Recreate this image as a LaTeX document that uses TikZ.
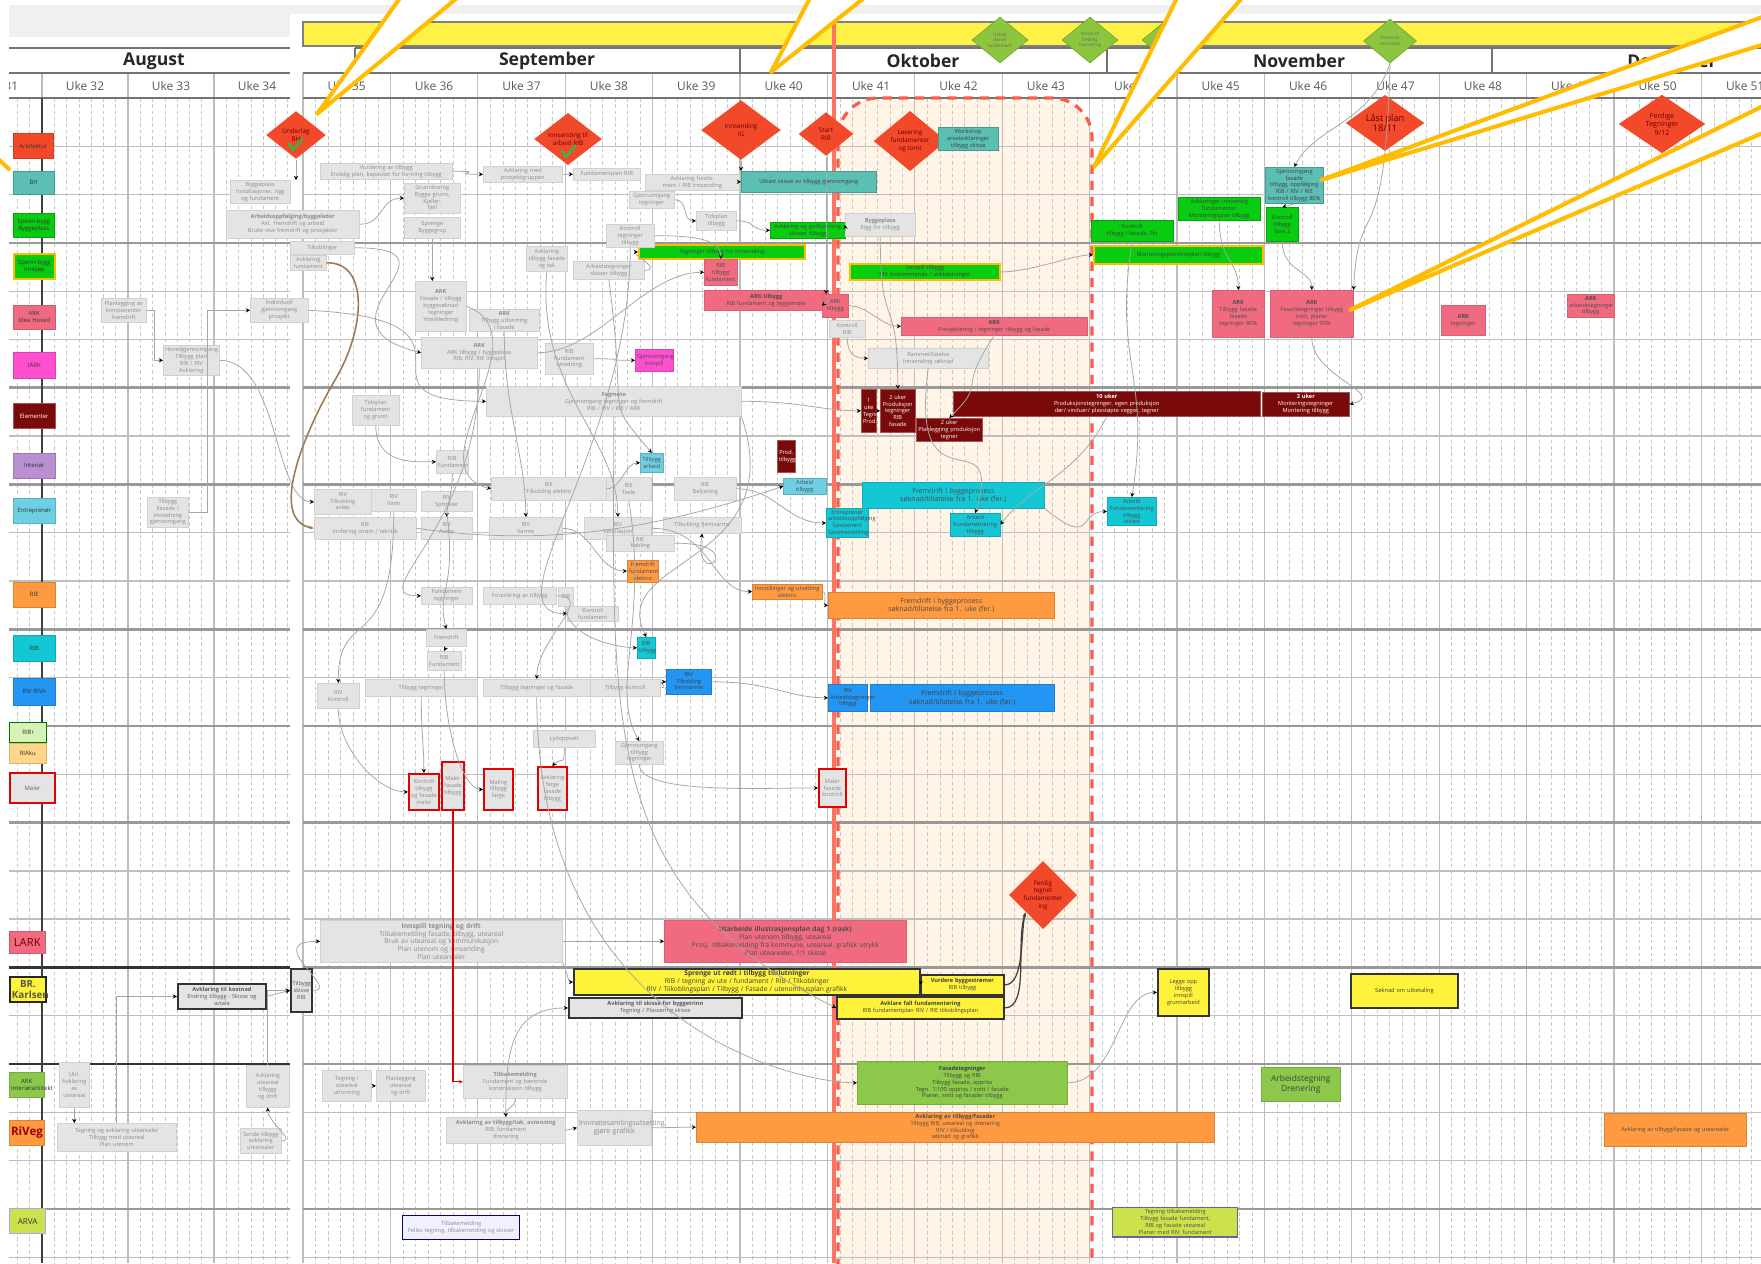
\documentclass[tikz,border=0pt]{standalone}
\usepackage{fontspec}
\setmainfont{Open Sans}
\usepackage{tikz}
\usetikzlibrary{shapes.geometric,arrows.meta}
\definecolor{msred}{HTML}{F2492A}
\definecolor{msgreen}{HTML}{8CC63F}
\definecolor{band}{HTML}{FFF146}
\definecolor{bhteal}{HTML}{5BBFB4}
\definecolor{bgreen}{HTML}{08CC10}
\definecolor{arkpink}{HTML}{F06B80}
\definecolor{magent}{HTML}{FF4FD0}
\definecolor{elred}{HTML}{7A0A0A}
\definecolor{lilac}{HTML}{B88FD0}
\definecolor{skyblue}{HTML}{6ECFE2}
\definecolor{orng}{HTML}{FF9A40}
\definecolor{cyn}{HTML}{14C7D4}
\definecolor{blu}{HTML}{2395F2}
\definecolor{pale}{HTML}{D6F2B4}
\definecolor{peach}{HTML}{FFD68A}
\definecolor{yel}{HTML}{FFF23A}
\definecolor{lgreen}{HTML}{8CC94A}
\definecolor{arvagreen}{HTML}{CDE24A}
\definecolor{callout}{HTML}{FFBC00}
\definecolor{redline}{HTML}{FF5A48}
\definecolor{boxgray}{HTML}{E4E4E4}
\definecolor{gridgray}{HTML}{BDBDBD}
\definecolor{sand}{HTML}{FFF4E5}
\definecolor{checkg}{HTML}{2DB84B}

\newcommand{\tn}{\fontsize{1.6}{1.95}\selectfont}
\newcommand{\task}[6][taskbox]{%
  \pgfmathsetlengthmacro\taskw{#4*0.01cm}%
  \pgfmathsetlengthmacro\tasktw{#4*0.01cm-1pt}%
  \pgfmathsetlengthmacro\taskh{#5*0.01cm}%
  \node[#1,anchor=north west,minimum width=\taskw,minimum height=\taskh,text width=\tasktw] (#2) at (#3) {#6};}

\tikzset{
  taskbox/.style={fill=boxgray,draw=black!18,line width=0.15pt,font=\tn,text=black!45,align=center,inner sep=0.5pt},
  pinkbox/.style={taskbox,fill=arkpink,draw=arkpink!90!black,text=black!70},
  greenbox/.style={taskbox,fill=bgreen,draw=bgreen!80!black,text=black!75},
  greenybox/.style={greenbox,draw=callout,line width=0.5pt},
  tealbox/.style={taskbox,fill=bhteal,draw=bhteal!80!black,text=black!75},
  elbox/.style={taskbox,fill=elred,draw=elred!70!white,text=white},
  cyanbox/.style={taskbox,fill=cyn,draw=cyn!85!black,text=black!70},
  skybox/.style={taskbox,fill=skyblue,draw=skyblue!85!black,text=black!70},
  orangebox/.style={taskbox,fill=orng,draw=orng!85!black,text=black!70},
  bluebox/.style={taskbox,fill=blu,draw=blu!85!black,text=black!75},
  yellowbox/.style={taskbox,fill=yel,draw=black!80,line width=0.5pt,text=black!75},
  darkgray/.style={taskbox,draw=black!80,line width=0.5pt,text=black!65},
  leafbox/.style={taskbox,fill=lgreen,draw=lgreen!85!black,text=black!75},
  malerbox/.style={taskbox,draw=red!90!black,line width=0.5pt},
  magbox/.style={taskbox,fill=magent,draw=magent!85!black,text=black!70},
  lanelbl/.style={taskbox,text=black!80,font=\fontsize{1.7}{2}\selectfont},
  msdia/.style={shape=diamond,fill=msred,draw=none,inner sep=0pt,font=\fontsize{1.8}{2.2}\selectfont,text=black!60!red,align=center},
  gdia/.style={shape=diamond,fill=msgreen,draw=msgreen!85!black,line width=0.2pt,inner sep=0pt,font=\fontsize{1.3}{1.6}\selectfont,text=black!60,align=center},
  weekline/.style={draw=gridgray,line width=0.35pt},
  dayline/.style={draw=black!22,line width=0.15pt,dash pattern=on 1pt off 0.8pt},
  laneline/.style={draw=black!25,line width=0.4pt},
  thickline/.style={draw=black!40,line width=0.75pt},
  hdrline/.style={draw=black!55,line width=0.5pt},
  weeklbl/.style={font=\fontsize{3.4}{4}\selectfont,text=black!65},
  monthlbl/.style={font=\fontsize{5}{6}\selectfont\bfseries,text=black!85},
  cn/.style={draw=black!35,line width=0.22pt,-{Stealth[length=1.2pt,width=1.2pt,black]}},
  speech/.style={fill=white,draw=callout,line width=1.15pt,line join=round},
}

\begin{document}
\begin{tikzpicture}[x=0.01cm,y=-0.01cm]
  \useasboundingbox (0,0) rectangle (1761,1263);
  \clip (0,0) rectangle (1761,1263);
  \fill[white] (0,0) rectangle (1761,1263);

  % top band
  \fill[black!6] (9,5) rectangle (1761,14);
  \fill[black!6] (9,5) rectangle (290,37);

  % uke 41-44 omraade
  \fill[sand,rounded corners=0.4cm] (838,1300) -- (838,98) -- (1092,98) -- (1092,1300);

  % rutenett hoved
  \foreach \k in {0,...,16} {
    \pgfmathsetmacro\xa{303+87.4*\k}
    \foreach \j in {1,...,6}
      \draw[dayline] ({\xa+12.486*\j},98) -- ({\xa+12.486*\j},1263);
    \draw[weekline] (\xa,73) -- (\xa,1263);
    \pgfmathtruncatemacro\wk{35+\k}
    \node[weeklbl] at ({\xa+43.7},86) {Uke \wk};
  }

  % rutenett august
  \begin{scope}
    \clip (9,0) rectangle (290,1263);
    \foreach \k in {0,...,3} {
      \pgfmathsetmacro\xa{-44+86*\k}
      \foreach \j in {1,...,6}
        \draw[dayline] ({\xa+12.29*\j},98) -- ({\xa+12.29*\j},1263);
      \draw[weekline] (\xa,73) -- (\xa,1263);
      \pgfmathtruncatemacro\wk{31+\k}
      \node[weeklbl] at ({\xa+43},86) {Uke \wk};
    }
  \end{scope}

  % svoemmebaner
  \foreach \i in {0,...,24} {
    \pgfmathsetmacro\ly{98+48.3*\i}
    \draw[laneline] (303,\ly) -- (1761,\ly);
    \draw[laneline] (9,\ly) -- (290,\ly);
  }
  \foreach \i in {3,6,8,11,13,15,23} {
    \pgfmathsetmacro\ly{98+48.3*\i}
    \draw[thickline] (303,\ly) -- (1761,\ly);
    \draw[thickline] (9,\ly) -- (290,\ly);
  }
  \foreach \i in {18,20} {
    \pgfmathsetmacro\ly{98+48.3*\i}
    \draw[thickline] (303,\ly) -- (1761,\ly);
    \draw[black!80,line width=0.8pt] (9,\ly) -- (290,\ly);
  }

  % topptekst
  \draw[hdrline] (9,48) -- (290,48);
  \draw[hdrline] (9,73) -- (290,73);
  \draw[hdrline] (9,98) -- (290,98);
  \node[monthlbl] at (154,61) {August};
  \filldraw[fill=band,draw=black!50,line width=0.3pt] (303,22) rectangle (1775,46);
  \draw[hdrline] (355,48) -- (1761,48);
  \draw[hdrline] (303,73) -- (1761,73);
  \draw[hdrline] (303,98) -- (1761,98);
  \foreach \xm in {355,740,1107,1492}
    \draw[hdrline] (\xm,48) -- (\xm,73);
  \node[monthlbl] at (547,61) {September};
  \node[monthlbl] at (923,61) {Oktober};
  \node[monthlbl] at (1299,61) {November};
  \node[monthlbl] at (1672,61) {Desember};

  % rod linje og stiplet ramme
  \draw[redline!85,line width=1pt] (834,22) -- (834,1263);
  \draw[redline,line width=0.9pt,dash pattern=on 2.6pt off 2pt,rounded corners=0.4cm]
    (838,1300) -- (838,98) -- (1092,98) -- (1092,1300);

  % tidslinje venstre
  \draw[black!75,line width=0.6pt] (42,98) -- (42,1263);

  % baneetiketter
  \task[lanelbl,fill=msred,draw=msred!85!black]{lb1}{13,133}{40}{25}{Arkitektur}
  \task[lanelbl,fill=bhteal,draw=bhteal!80!black]{lb2}{13,171}{41}{23}{BH}
  \task[lanelbl,fill=bgreen,draw=bgreen!80!black]{lb3}{13,213}{41}{24}{Spenn-bygg\\Byggeplass}
  \task[lanelbl,fill=bgreen,draw=callout,line width=0.5pt]{lb4}{13,253}{41}{25}{Spenn-bygg\\Innkjøp}
  \task[lanelbl,fill=arkpink,draw=arkpink!85!black]{lb5}{13,305}{42}{24}{ARK\\Idea Hoved}
  \task[lanelbl,fill=magent,draw=magent!85!black]{lb6}{13,352}{42}{26}{IARK}
  \task[lanelbl,fill=elred,draw=elred!70!white,text=white]{lb7}{13,403}{42}{25}{Elementer}
  \task[lanelbl,fill=lilac,draw=lilac!85!black]{lb8}{13,453}{42}{25}{Interiør}
  \task[lanelbl,fill=skyblue,draw=skyblue!85!black]{lb9}{13,498}{42}{25}{Entreprenør}
  \task[lanelbl,fill=orng,draw=orng!85!black]{lb10}{13,582}{42}{25}{RIE}
  \task[lanelbl,fill=cyn,draw=cyn!85!black]{lb11}{13,635}{42}{26}{RIB}
  \task[lanelbl,fill=blu,draw=blu!85!black]{lb12}{13,678}{42}{27}{RIV RIVA}
  \task[lanelbl,fill=pale,draw=green!45!black,line width=0.4pt]{lb13}{9,722}{37}{20}{RIBr}
  \task[lanelbl,fill=peach,draw=peach!85!black]{lb14}{9,743}{37}{20}{RIAku}
  \task[lanelbl,draw=red!90!black,line width=0.6pt,text=black!60]{lb15}{9,772}{45}{30}{Maler}
  \task[lanelbl,fill=arkpink,draw=arkpink!85!black,text=red!45!black,font=\fontsize{3.2}{3.6}\selectfont]{lb16}{9,931}{36}{22}{LARK}
  \task[lanelbl,fill=yel,draw=black!85,line width=0.6pt,text=black!55!yellow!60!black,font=\fontsize{2.8}{3}\selectfont\bfseries]{lb17}{9,976}{36}{25}{BR.\\Karlsen}
  \task[lanelbl,fill=lgreen,draw=lgreen!85!black]{lb18}{9,1072}{35}{25}{ARK\\Interiørarkitekt}
  \task[lanelbl,fill=orng,draw=orng!85!black,text=red!60!black,font=\fontsize{3.3}{3.6}\selectfont\bfseries]{lb19}{9,1120}{35}{25}{RiVeg}
  \task[lanelbl,fill=arvagreen,draw=blue!35,line width=0.4pt,font=\fontsize{2.3}{2.6}\selectfont]{lb20}{9,1208}{36}{25}{ARVA}

  % milepaeler
  \node[msdia,minimum width=0.6cm,minimum height=0.48cm] (ms1) at (296,135) {Underlag\\BH};
  \node[msdia,minimum width=0.68cm,minimum height=0.5cm] (ms2) at (568,139) {Innsending til\\arbeid RIB};
  \node[msdia,minimum width=0.8cm,minimum height=0.6cm] (ms3) at (741,130) {Innsending\\IG};
  \node[msdia,minimum width=0.55cm,minimum height=0.44cm] (ms4) at (826,134) {Start\\RIB};
  \node[msdia,minimum width=0.73cm,minimum height=0.5cm] (ms5) at (910,141) {Levering\\fundamenter\\og tomt};
  \node[msdia,minimum width=0.79cm,minimum height=0.55cm,font=\fontsize{2.6}{3}\selectfont] (ms6) at (1385,123) {Låst plan\\18/11};
  \node[msdia,minimum width=0.87cm,minimum height=0.59cm,font=\fontsize{2}{2.4}\selectfont] (ms7) at (1662,124) {Ferdige\\Tegninger\\9/12};
  \node[msdia,minimum width=0.68cm,minimum height=0.63cm] (ms8) at (1043,895) {Ferdig\\tegnet\\fundamenter\\ing};
  \draw[checkg,line width=0.7pt,line cap=round,line join=round]
    ([shift={(-7,9)}]ms1.center) -- ++(4,6) -- ++(9,-11);
  \draw[checkg,line width=0.7pt,line cap=round,line join=round]
    ([shift={(-6,12)}]ms2.center) -- ++(4,6) -- ++(9,-11);
  \node[gdia,minimum width=0.56cm,minimum height=0.46cm] (gd1) at (1000,40) {Utkast\\skisser\\fundament};
  \node[gdia,minimum width=0.56cm,minimum height=0.46cm] (gd2) at (1090,40) {Innsendt\\Endelig\\montering};
  \node[gdia,minimum width=0.56cm,minimum height=0.46cm] (gd3) at (1170,40) {Innsendt\\tegning};
  \node[gdia,minimum width=0.53cm,minimum height=0.44cm] (gd4) at (1390,41) {Innsendt\\montasje};

  % BH
  \task[tealbox]{t1}{741,171}{135}{21}{Utkast skisse av tilbygg gjennomgang}
  \task[tealbox]{t2}{938,127}{60}{23}{Workshop\\arealavklaringer\\tilbygg skisse}
  \task[tealbox]{t3}{1265,167}{58}{35}{Gjennomgang fasade\\tilbygg, oppfølging\\RIB / RIV / RIE\\kontroll tilbygg 80\%}

  % Spenn-bygg
  \task[greenbox]{g1}{770,222}{75}{16}{Avklaring og godkjenning\\skisser tilbygg}
  \task[greenybox]{g2}{638,244}{166}{14}{Tegninger tilbygg for innsending}
  \task[greenybox]{g3}{849,263}{150}{14}{Innspill tilbygg\\RIV innkommende / stikkledninger}
  \task[greenbox]{g4}{1091,220}{82}{21}{Kontroll\\tilbygg i fasade, Fkr}
  \task[greenybox]{g5}{1093,245}{169}{18}{Monteringsplan/tidsplan tilbygg}
  \task[greenbox]{g6}{1178,197}{82}{23}{Avklaringer innvendig\\fundamenter\\Monteringsplan tilbygg}
  \task[greenbox]{g7}{1266,207}{32}{34}{Kontroll\\tilbygg\\fase 2}

  % ARK
  \task[pinkbox]{p1}{704,259}{33}{26}{RIB\\tilbygg\\fundament}
  \task[pinkbox]{p2}{704,290}{124}{20}{\textbf{ARK tilbygg}\\RIB fundament og byggemøte}
  \task[pinkbox]{p3}{822,294}{26}{23}{ARK\\tilbygg}
  \task[pinkbox]{p4}{901,317}{186}{18}{\textbf{ARK}\\Prosjektering / tegninger tilbygg og fasade}
  \task[pinkbox]{p5}{1212,290}{52}{47}{\textbf{ARK}\\Tilbygg fasade\\fasade\\tegninger 80\%}
  \task[pinkbox]{p6}{1270,290}{83}{47}{\textbf{ARK}\\Fasadetegninger tilbygg\\snitt, planer\\tegninger 90\%}
  \task[pinkbox]{p7}{1441,305}{44}{30}{\textbf{ARK}\\tegninger}
  \task[pinkbox]{p8}{1567,294}{47}{23}{\textbf{ARK}\\arbeidstegninger\\tilbygg}
  \task[magbox]{m1}{635,349}{38}{22}{Gjennomgang\\innspill}

  % Elementer
  \task[elbox]{d1}{861,389}{15}{43}{1 uke\\Tegning\\Prod.}
  \task[elbox]{d2}{880,389}{35}{43}{2 uker\\Produksjon\\tegninger\\RIB\\fasade}
  \task[elbox]{d3}{916,418}{66}{21}{2 uker\\Planlegging produksjon\\tegner}
  \task[elbox]{d4}{953,391}{307}{25}{\textbf{10 uker}\\Produksjonstegninger, egen produksjon\\dør/ vinduer/ plasstøpte vegger, tegner}
  \task[elbox]{d5}{1262,392}{87}{24}{\textbf{3 uker}\\Monteringstegninger\\Montering tilbygg}
  \task[elbox]{d6}{777,440}{18}{32}{Prod.\\tilbygg}

  % Entreprenoer
  \task[cyanbox,font=\fontsize{2}{2.4}\selectfont]{c1}{862,482}{182}{26}{Fremdrift i byggeprosess\\søknad/tillatelse fra 1. uke (fer.)}
  \task[cyanbox]{c2}{826,508}{42}{25}{Entreprenør\\arbeidsoppfølging\\fundament\\Sammenstilling}
  \task[cyanbox]{c3}{950,513}{50}{20}{Arbeid\\Fundamentering\\tilbygg}
  \task[cyanbox]{c4}{1107,497}{49}{26}{Arbeid\\Fundamentering tilbygg\\utkast}
  \task[skybox]{c5}{640,453}{23}{19}{Tilbygg\\arbeid}
  \task[skybox]{c6}{783,478}{43}{16}{Arbeid\\tilbygg}
  \task[cyanbox]{c7}{637,637}{18}{21}{RIB\\tilbygg}

  % RIE
  \task[orangebox,font=\fontsize{2}{2.4}\selectfont]{o1}{828,592}{226}{26}{Fremdrift i byggeprosess\\søknad/tillatelse fra 1. uke (fer.)}
  \task[orangebox]{o2}{752,584}{70}{14}{Innstillinger og utsetting\\elektro}
  \task[orangebox]{o3}{627,560}{31}{20}{Fremdrift\\fundament\\elektro}

  % RIB / RIV
  \task[bluebox,font=\fontsize{2}{2.4}\selectfont]{b1}{870,684}{184}{27}{Fremdrift i byggeprosess\\søknad/tillatelse fra 1. uke (fer.)}
  \task[bluebox]{b2}{828,684}{39}{27}{RIV\\Arbeidstegninger\\tilbygg}
  \task[bluebox]{b3}{666,669}{45}{25}{RIV\\Tilkobling\\fjernvarme}

  % Maler
  \task[malerbox]{r1}{408,773}{30}{36}{Kontroll\\tilbygg\\og fasade\\maler}
  \task[malerbox]{r2}{441,761}{22}{48}{Maler\\fasade\\tilbygg}
  \task[malerbox]{r3}{483,768}{29}{41}{Maling\\tilbygg\\farge}
  \task[malerbox]{r4}{537,766}{29}{43}{Avklaring\\farge\\fasade\\tilbygg}
  \task[malerbox]{r5}{818,768}{27}{38}{Maler\\fasade\\kontroll}

  % LARK, Karlsen, RiVeg, ARVA
  \task[pinkbox,font=\fontsize{1.9}{2.3}\selectfont]{p9}{664,920}{242}{42}{\textbf{Utarbeide illustrasjonsplan dag 1 (rask)}\\Plan utenom tilbygg, uteareal\\Prosj. tilbakemelding fra kommune, uteareal, grafisk utrykk\\Plan utearealer, 1:1 skisse}
  \task[yellowbox,font=\fontsize{1.9}{2.3}\selectfont]{y1}{573,968}{346}{26}{\textbf{Sprenge ut rødt i tilbygg tilslutninger}\\RIB / tegning av ute / fundament / RIB / Tilkoblinger\\RIV / Tilkoblingsplan / Tilbygg / Fasade / utenomhusplan grafikk}
  \task[yellowbox]{y2}{920,974}{83}{20}{\textbf{Vurdere byggestrømer}\\RIB tilbygg}
  \task[yellowbox]{y3}{836,996}{167}{22}{\textbf{Avklare fall fundamentering}\\RIB fundamentplan RIV / RIE tilkoblingsplan}
  \task[yellowbox]{y4}{1157,968}{51}{47}{Legge opp\\tilbygg\\innspill\\grunnarbeid}
  \task[yellowbox]{y5}{1350,973}{107}{34}{Søknad om utbetaling}
  \task[darkgray]{k1}{568,997}{173}{20}{\textbf{Avklaring til skisse for byggetrinn}\\Tegning / Plassering skisse}
  \task[darkgray]{k2}{177,983}{88}{25}{\textbf{Avklaring til kostnad}\\Endring tilbygg - Skisse og\\avtale}
  \task[darkgray]{k3}{290,968}{21}{43}{Tilbygg\\skisse\\RIB}
  \task[leafbox]{l1}{857,1061}{210}{43}{\textbf{Fasadetegninger}\\Tilbygg og RIB\\Tilbygg fasade, oppriss\\Tegn. 1:100 oppriss / snitt / fasade\\Planer, snitt og fasader tilbygg}
  \task[leafbox,font=\fontsize{2.4}{2.8}\selectfont]{l2}{1261,1067}{79}{34}{Arbeidstegning\\Drenering}
  \task[orangebox]{o4}{696,1112}{518}{27}{\textbf{Avklaring av tilbygg/fasader}\\Tilbygg RIB, uteareal og drenering\\RIV / tilkobling\\søknad og grafikk}
  \task[orangebox]{o5}{1604,1113}{142}{33}{Avklaring av tilbygg/fasade og utearealer}
  \task[taskbox,fill=blue!6,draw=blue!55!black,line width=0.4pt]{v1}{402,1215}{117}{24}{Tilbakemelding\\Felles tegning, tilbakemelding og skisser}
  \task[taskbox,fill=arvagreen,draw=blue!35!black!60,line width=0.4pt,text=black!70]{v2}{1112,1207}{125}{26}{Tegning tilbakemelding\\Tilbygg fasade fundament, RIB og fasade uteareal\\Planer med RIV, fundament}

  % graa oppgaver
  \task{a1}{230,180}{60}{22}{Byggeplass\\Installasjoner, rigg\\og fundament}
  \task{a2}{226,210}{133}{28}{\textbf{Arbeidsoppfølging/byggeleder}\\Avt. fremdrift og arbeid\\Bruke vise fremdrift og prosjekter}
  \task{a3}{320,163}{132}{16}{Vurdering av tilbygg\\Endelig plan, kapasitet for forming tilbygg}
  \task{a4}{404,183}{56}{23}{Grunnboring\\Bygge grunn, Kjeller,\\fjell}
  \task{a5}{404,217}{56}{21}{Sprenge\\Byggegrop}
  \task{a6}{290,241}{64}{13}{Tilkoblinger}
  \task{a7}{290,255}{36}{15}{Avklaring\\fundament}
  \task{a8}{250,298}{58}{24}{Individuell gjennomgang\\prosjekt}
  \task{a9}{101,298}{45}{24}{Planlegging av\\komponenter\\fremdrift}
  \task{a10}{163,345}{56}{30}{Hovedgjennomgang\\Tilbygg plan\\RIB / RIV\\Avklaring}
  \task{a11}{147,497}{41}{26}{Tilbygg\\Fasade / innredning\\gjennomgang}
  \task{a12}{415,281}{51}{50}{\textbf{ARK}\\Fasade / tilbygg\\byggesøknad\\tegninger\\Ytterkledning}
  \task{a13}{469,309}{70}{22}{\textbf{ARK}\\Tilbygg utforming\\i fasade}
  \task{a14}{421,337}{116}{31}{\textbf{ARK}\\ARK tilbygg / byggeplass\\RIB, RIV, RIE innspill}
  \task{a15}{526,246}{41}{25}{Avklaring\\tilbygg fasade\\og tak}
  \task{a16}{573,261}{71}{18}{Arbeidstegninger\\skisser tilbygg}
  \task{a17}{545,343}{48}{31}{RIB\\Fundament\\utredning}
  \task{a18}{573,168}{67}{12}{Fundamentplan RIB}
  \task{a19}{483,166}{79}{9}{Avklaring med prosjektgruppen}
  \task{a20}{645,174}{94}{11}{Avklaring fundament / RIB innsending}
  \task{a21}{629,191}{45}{17}{Gjennomgang\\tegninger}
  \task{a22}{606,224}{48}{17}{Kontroll tegninger\\tilbygg}
  \task{a23}{696,211}{40}{19}{Tidsplan\\tilbygg}
  \task{a24}{845,213}{70}{23}{\textbf{Byggeplass}\\Rigg for tilbygg}
  \task{a25}{868,348}{120}{20}{Rammetillatelse\\Innsending søknad}
  \task{a26}{829,320}{36}{17}{Kontroll\\RIB}
  \task{a27}{486,386}{255}{30}{\textbf{Fagmøte}\\Gjennomgang tegninger og fremdrift\\RIB / RIV / RIE / ARK}
  \task{a28}{352,395}{47}{30}{Tidsplan\\fundament\\og grunn}
  \task{a29}{436,450}{32}{23}{RIB\\Fundament}
  \task{a30}{314,489}{57}{25}{RIV\\Tilkobling\\avløp}
  \task{a31}{371,489}{45}{22}{RIV\\Vann}
  \task{a32}{421,491}{51}{20}{RIV\\Sprinkler}
  \task{a33}{491,477}{115}{23}{RIE\\Tilkobling elektro}
  \task{a34}{606,477}{45}{23}{RIE\\Tavle}
  \task{a35}{674,477}{62}{23}{RIE\\Belysning}
  \task{a36}{314,517}{102}{22}{RIE\\Innføring strøm / teknisk}
  \task{a37}{421,517}{51}{22}{RIV\\Avløp}
  \task{a38}{489,517}{73}{22}{RIV\\Varme}
  \task{a39}{584,517}{67}{22}{RIV\\Ventilasjon}
  \task{a40}{663,517}{78}{16}{Tilkobling fjernvarme}
  \task{a41}{606,535}{68}{15}{RIE\\Kabling}
  \task{a42}{421,587}{51}{17}{Fundament\\tegninger}
  \task{a43}{483,587}{73}{17}{Forankring av tilbygg}
  \task{a44}{558,587}{15}{19}{RIB}
  \task{a45}{567,606}{51}{14}{Kontroll\\fundament}
  \task{a46}{426,629}{40}{17}{Fremdrift}
  \task{a47}{427,651}{34}{19}{RIB\\Fundament}
  \task{a48}{317,683}{42}{25}{RIV\\Kontroll}
  \task{a49}{365,679}{112}{17}{Tilbygg tegninger}
  \task{a50}{483,679}{107}{17}{Tilbygg tegninger og fasade}
  \task{a51}{590,679}{70}{17}{Tilbygg kontroll}
  \task{a52}{533,730}{62}{17}{Lydoppsett}
  \task{a53}{615,741}{48}{20}{Gjennomgang\\tilbygg\\tegninger}
  \task[taskbox,font=\fontsize{1.9}{2.2}\selectfont]{a54}{320,920}{242}{42}{\textbf{Innspill tegning og drift}\\Tilbakemelding fasade, tilbygg, uteareal\\Bruk av uteareal og kommunikasjon\\Plan utenom og innsending\\Plan utearealer}
  \task{a55}{322,1070}{49}{31}{Tegning i\\uteareal\\utforming}
  \task{a56}{376,1070}{49}{31}{Planlegging\\uteareal\\og drift}
  \task{a57}{463,1065}{104}{33}{\textbf{Tilbakemelding}\\Fundament og bærende\\konstruksjon tilbygg}
  \task{a58}{446,1117}{119}{26}{\textbf{Avklaring av tilbygg/tak, avrenning}\\RIB, fundament\\drenering}
  \task[taskbox,font=\fontsize{2}{2.4}\selectfont]{a59}{577,1110}{74}{35}{Innmøtesamlingsutsetting\\gjøre grafikk}
  \task{a60}{59,1062}{30}{45}{Util.\\Avklaring\\av\\uteareal}
  \task{a61}{57,1123}{119}{28}{Tegning og avklaring utearealer\\Tilbygg med uteareal\\Plan utenom}
  \task{a62}{240,1128}{41}{25}{Sende tilbygg\\avklaring\\utearealer}
  \task{a63}{246,1065}{43}{42}{Avklaring\\uteareal\\tilbygg\\og drift}

  % forbindelser
  \draw[cn] (ms1.south) -- (ms1.south |- a1.north);
  \draw[cn] (ms3.south) -- (ms3.south |- t1.north);
  \draw[cn] (ms4.south) -- (ms4.south |- p3.north);
  \draw[cn] (a2.east) .. controls +(25,0) and +(-25,0) .. (a4.west);
  \draw[cn] (a3.east) .. controls +(40,0) and +(-40,0) .. (a19.west);
  \draw[cn] (a19.east) .. controls +(5,0) and +(-5,0) .. (a18.west);
  \draw[cn] (a5.south) -- (a5.south |- a12.north);
  \draw[cn] (a9.east) -- ++(8,0) |- (a10.west);
  \draw[cn] (a11.east) -- ++(19,0) |- (a8.west);
  \draw[cn] (a10.east) .. controls +(60,0) and +(-40,0) .. (a30.west);
  \draw[brown!70!black!80,line width=0.45pt,-{Stealth[length=1.4pt]}]
    (a7.east) .. controls (370,262) and (365,330) .. (335,380)
              .. controls (300,440) and (270,520) .. (a36.west);
  \draw[cn] (a14.east) .. controls +(60,0) and +(-60,0) .. (p1.west);
  \draw[cn] (a16.east) .. controls +(20,0) and +(-10,0) .. (g2.west);
  \draw[cn] (a20.east) .. controls +(5,0) and +(-5,0) .. (t1.west);
  \draw[cn] (a21.east) .. controls +(15,0) and +(-15,0) .. (a23.west);
  \draw[cn] (a23.east) .. controls +(20,0) and +(-20,0) .. (g1.west);
  \draw[cn] (g1.east) -- (a24.west);
  \draw[cn] (a22.east) .. controls +(40,0) and +(0,-20) .. (p1.north);
  \draw[cn] (p2.east) -- (p3.west);
  \draw[cn] (p3.east) .. controls +(20,0) and +(-20,0) .. (p4.west);
  \draw[cn] (a26.south) .. controls +(0,15) and +(-15,0) .. (a25.west);
  \draw[cn] (a27.east) .. controls +(60,0) and +(-40,0) .. (d1.west);
  \draw[cn] (d1.east) -- (d2.west);
  \draw[cn] (a33.east) .. controls +(15,0) and +(-15,0) .. (c5.west);
  \draw[cn] (a35.east) .. controls +(40,0) and +(-40,0) .. (c2.west);
  \draw[cn] (a39.east) .. controls +(60,0) and +(-40,0) .. (o2.west);
  \draw[cn] (o2.east) .. controls +(5,0) and +(-5,0) .. (o1.west);
  \draw[cn] (a38.east) .. controls +(30,0) and +(-30,0) .. (o3.west);
  \draw[cn] (a51.east) .. controls +(10,0) and +(-10,0) .. (b3.west);
  \draw[cn] (b3.east) .. controls +(60,0) and +(-40,0) .. (b2.west);
  \draw[cn] (a44.south) .. controls +(0,30) and +(-20,0) .. (c7.west);
  \draw[cn] (a49.south) .. controls +(0,40) and +(0,-30) .. (r1.north);
  \draw[cn] (a48.south) .. controls +(0,40) and +(-30,0) .. (r1.west);
  \draw[cn] (a47.south) .. controls +(0,60) and +(-20,0) .. (r3.west);
  \draw[cn] (a52.south) .. controls +(0,20) and +(10,-10) .. (r4.north);
  \draw[cn] (a53.south) .. controls +(0,30) and +(-60,0) .. (r5.west);
  \draw[red!85!black,line width=0.35pt,-{Stealth[length=1.2pt]}] (r2.south) |- (a57.west);
  \draw[cn] (a54.east) .. controls +(60,0) and +(-60,0) .. (p9.west);
  \draw[cn] (a54.south east) .. controls +(5,10) and +(-5,0) .. (y1.west);
  \draw[cn] (a58.north) .. controls +(0,-60) and +(-60,0) .. (k1.west);
  \draw[cn] (y1.east) -- (y2.west);
  \draw[black!75,line width=0.35pt,-{Stealth[length=1.3pt]}] (y2.east) .. controls +(20,0) and +(-5,20) .. (ms8.south west);
  \draw[black!75,line width=0.35pt,-{Stealth[length=1.3pt]}] (y3.east) .. controls +(25,0) and +(-10,30) .. (ms8.south west);
  \draw[cn] (a27.south) .. controls +(0,300) and +(-240,-120) .. (y3.west);
  \draw[cn] (a50.south) .. controls +(0,330) and +(-60,0) .. (l1.west);
  \draw[cn] (l1.east) .. controls +(50,0) and +(-40,0) .. (y4.west);
  \draw[cn] (a59.east) .. controls +(15,0) and +(-15,0) .. (o4.west);
  \draw[cn] (a58.east) -- (a59.west);
  \draw[cn] (k2.east) -- (k3.west);
  \draw[cn] (a61.north) |- (k2.west);
  \draw[cn] (a63.north) |- (k3.west);
  \draw[cn] (a60.south) -- (a60.south |- a61.north);
  \draw[cn] (a62.east) .. controls +(15,0) and +(0,15) .. (a63.south);
  \draw[cn] (k3.east) .. controls +(30,0) and +(-60,0) .. (a54.west);
  \draw[cn] (a55.east) -- (a56.west);
  \draw[cn] (a57.south) .. controls +(0,10) and +(0,-10) .. (a58.north);
  % floker
  \draw[cn] (a12.east) .. controls +(80,30) and +(-80,-20) .. (a33.west);
  \draw[cn] (a13.south) .. controls +(0,80) and +(0,-60) .. (a38.north);
  \draw[cn] (a15.south) .. controls +(-10,120) and +(0,-80) .. (a39.north);
  \draw[cn] (a17.east) .. controls +(40,0) and +(-40,0) .. (m1.west);
  \draw[cn] (a14.south) .. controls +(0,160) and +(-60,0) .. (a42.west);
  \draw[cn] (a36.east) .. controls +(140,20) and +(-120,40) .. (c6.west);
  \draw[cn] (a22.south) .. controls +(0,200) and +(-80,0) .. (a45.west);
  \draw[cn] (a16.south) .. controls +(20,150) and +(-50,-60) .. (c5.north);
  \draw[cn] (a27.south east) .. controls +(50,150) and +(-40,-80) .. (c7.north);
  \draw[cn] (a25.south) .. controls +(-20,150) and +(30,-100) .. (c3.north);
  \draw[cn] (a24.south) .. controls +(0,100) and +(0,-100) .. (d2.north);
  \draw[cn] (p4.south) .. controls +(-40,60) and +(40,-40) .. (d3.north);
  \draw[cn] (g4.south) .. controls +(-20,120) and +(20,-120) .. (c4.north);
  \draw[cn] (g6.south) .. controls +(0,40) and +(0,-30) .. (p5.north);
  \draw[cn] (g7.south) .. controls +(0,30) and +(0,-20) .. (p6.north);
  \draw[cn] (t3.south) -- (g7.north);
  \draw[cn] (gd4.south) .. controls +(-20,60) and +(20,-40) .. (t3.north);
  \draw[cn] (gd4.south) .. controls +(-5,200) and +(5,-100) .. (p6.north east);
  \draw[cn] (a31.south) .. controls +(0,150) and +(0,-80) .. (a48.north);
  \draw[cn] (a46.south) -- (a47.north);
  \draw[cn] (a41.east) .. controls +(80,0) and +(-10,60) .. (a40.south);
  \draw[cn] (a28.south) .. controls +(0,40) and +(-20,0) .. (a29.west);
  \draw[cn] (a29.south) .. controls +(0,20) and +(0,-10) .. (a37.north);
  \draw[cn] (a43.east) .. controls +(40,0) and +(0,-40) .. (a50.north);
  \draw[cn] (a32.south) .. controls +(10,80) and +(-10,-40) .. (a46.north);
  \draw[cn] (a34.south) .. controls +(20,120) and +(-30,-50) .. (a53.north);
  \draw[cn] (a6.east) .. controls +(120,0) and +(-120,-30) .. (a14.west);
  \draw[cn] (a8.east) .. controls +(200,10) and +(-150,0) .. (a27.west);
  \draw[cn] (g3.east) .. controls +(30,0) and +(-20,0) .. (g5.west);
  \draw[cn] (p6.south) .. controls +(0,40) and +(40,-10) .. (d5.east);
  \draw[cn] (d4.south) .. controls +(-30,60) and +(30,-40) .. (c3.east);
  \draw[cn] (c1.south east) .. controls +(50,40) and +(-30,0) .. (c4.west);

  % snakkebobler
  \filldraw[speech] (400,-2) -- (317,114) -- (457,-2);
  \filldraw[speech] (810,-2) -- (771,72) -- (864,-2);
  \filldraw[speech] (1177,-2) -- (1094,167) -- (1242,-2);
  \filldraw[speech] (1765,16) -- (1321,180) -- (1765,44);
  \filldraw[speech] (1765,105) -- (1350,310) -- (1765,132);
  \draw[callout,line width=1.15pt] (-5,156) -- (10,170);
\end{tikzpicture}
\end{document}
